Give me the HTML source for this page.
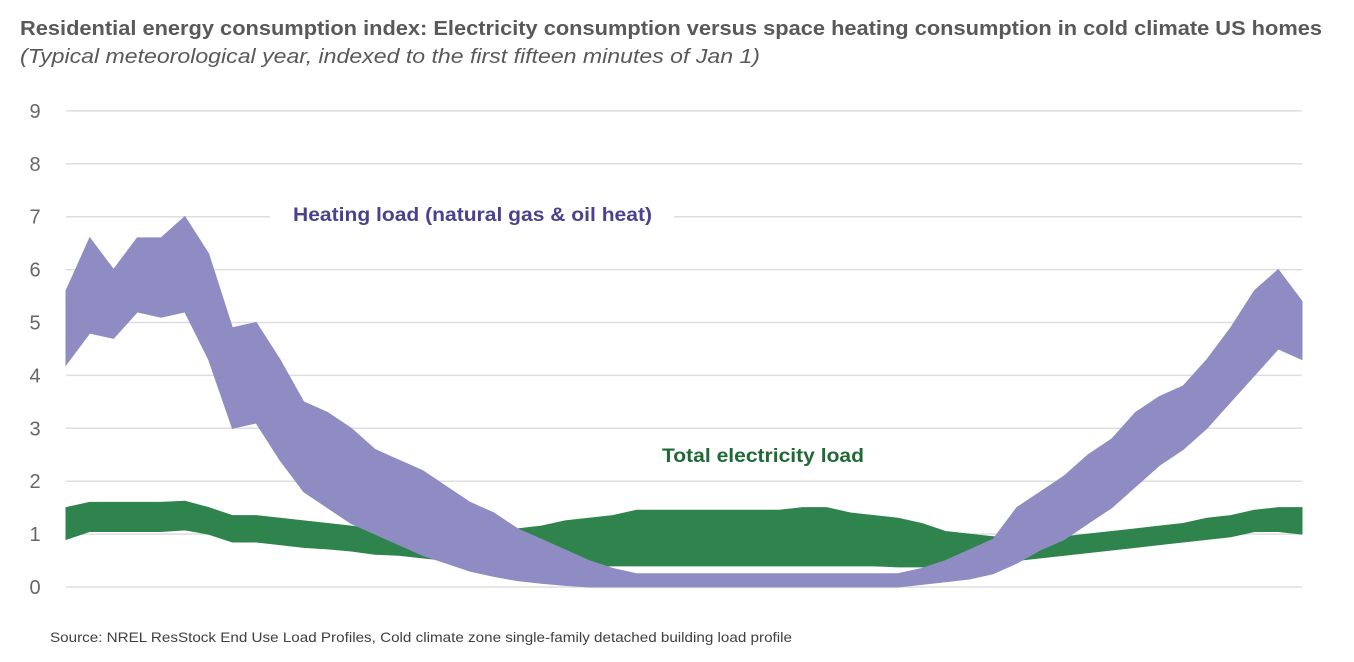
<!DOCTYPE html>
<html><head><meta charset="utf-8"><style>
body{margin:0;background:#fff;width:1354px;height:662px;overflow:hidden;font-family:"Liberation Sans",sans-serif}
svg{position:absolute;left:0;top:0}
</style></head><body>
<svg width="1354" height="662">
<text x="20" y="35" font-size="20.5" font-weight="bold" fill="#595959" textLength="1302" lengthAdjust="spacingAndGlyphs">Residential energy consumption index: Electricity consumption versus space heating consumption in cold climate US homes</text>
<text x="20" y="63" font-size="20" font-style="italic" fill="#595959" textLength="740" lengthAdjust="spacingAndGlyphs">(Typical meteorological year, indexed to the first fifteen minutes of Jan 1)</text>
<g id="grid"></g><g id="ticks"></g><g id="series"></g>
<rect x="270" y="200" width="404" height="30" fill="#fff"/>
<text x="293" y="221" font-size="19" font-weight="bold" fill="#4b418f" textLength="359" lengthAdjust="spacingAndGlyphs">Heating load (natural gas &amp; oil heat)</text>
<text x="662" y="462" font-size="19" font-weight="bold" fill="#1f6a36" textLength="202" lengthAdjust="spacingAndGlyphs">Total electricity load</text>
<text x="50" y="642" font-size="14" fill="#404040" textLength="742" lengthAdjust="spacingAndGlyphs">Source: NREL ResStock End Use Load Profiles, Cold climate zone single-family detached building load profile</text>
</svg>
<script>
const yTicks=[0,1,2,3,4,5,6,7,8,9];
const heatMax=[5.6,6.6,6.0,6.6,6.6,7.0,6.3,4.9,5.0,4.3,3.5,3.3,3.0,2.6,2.4,2.2,1.9,1.6,1.4,1.1,0.9,0.7,0.5,0.35,0.25,0.25,0.25,0.25,0.25,0.25,0.25,0.25,0.25,0.25,0.25,0.25,0.35,0.5,0.7,0.9,1.5,1.8,2.1,2.5,2.8,3.3,3.6,3.8,4.3,4.9,5.6,6.0,5.4];
const heatMin=[4.2,4.8,4.7,5.2,5.1,5.2,4.3,3.0,3.1,2.4,1.8,1.5,1.2,1.0,0.8,0.6,0.45,0.3,0.2,0.12,0.07,0.03,0,0,0,0,0,0,0,0,0,0,0,0,0,0,0.05,0.1,0.15,0.25,0.45,0.7,0.9,1.2,1.5,1.9,2.3,2.6,3.0,3.5,4.0,4.5,4.3];
const elecMax=[1.5,1.6,1.6,1.6,1.6,1.62,1.5,1.35,1.35,1.3,1.25,1.2,1.15,1.1,1.05,1.0,1.0,1.0,1.05,1.1,1.15,1.25,1.3,1.35,1.45,1.45,1.45,1.45,1.45,1.45,1.45,1.5,1.5,1.4,1.35,1.3,1.2,1.05,1.0,0.95,0.95,0.95,0.95,1.0,1.05,1.1,1.15,1.2,1.3,1.35,1.45,1.5,1.5];
const elecMin=[0.9,1.05,1.05,1.05,1.05,1.08,1.0,0.85,0.85,0.8,0.75,0.72,0.68,0.62,0.6,0.55,0.5,0.5,0.48,0.45,0.42,0.4,0.4,0.4,0.4,0.4,0.4,0.4,0.4,0.4,0.4,0.4,0.4,0.4,0.4,0.38,0.38,0.38,0.4,0.45,0.5,0.55,0.6,0.65,0.7,0.75,0.8,0.85,0.9,0.95,1.05,1.05,1.0];
const NS="http://www.w3.org/2000/svg";
const X0=66,X1=1302,Y0=587,YU=52.9;
const y=v=>Y0-v*YU;
const x=(i,n)=>X0+i*(X1-X0)/(n-1);
const grid=document.getElementById('grid'),ticks=document.getElementById('ticks');
yTicks.forEach(t=>{
 const l=document.createElementNS(NS,'line');
 l.setAttribute('x1',X0);l.setAttribute('x2',X1);l.setAttribute('y1',y(t));l.setAttribute('y2',y(t));
 l.setAttribute('stroke','#dedede');l.setAttribute('stroke-width','1.5');
 
 
 grid.appendChild(l);
 const tx=document.createElementNS(NS,'text');
 tx.setAttribute('x',35);tx.setAttribute('y',y(t)+7);tx.setAttribute('text-anchor','middle');
 tx.setAttribute('font-size','20');tx.setAttribute('fill','#666');tx.textContent=t;
 
 
 ticks.appendChild(tx);
});
function band(maxA,minA,color,name){
 const n=maxA.length;let pts=[];
 for(let i=0;i<n;i++)pts.push(x(i,n)+','+y(maxA[i]));
 for(let i=n-1;i>=0;i--)pts.push(x(i,n)+','+y(minA[i]));
 const p=document.createElementNS(NS,'polygon');
 p.setAttribute('points',pts.join(' '));p.setAttribute('fill',color);
 p.setAttribute('stroke',color);p.setAttribute('stroke-width','1');
 
 
 document.getElementById('series').appendChild(p);
}
band(elecMax,elecMin,'#2e844c','electricity-series');
band(heatMax,heatMin,'#8f8cc3','heating-series');
</script>
</body></html>
